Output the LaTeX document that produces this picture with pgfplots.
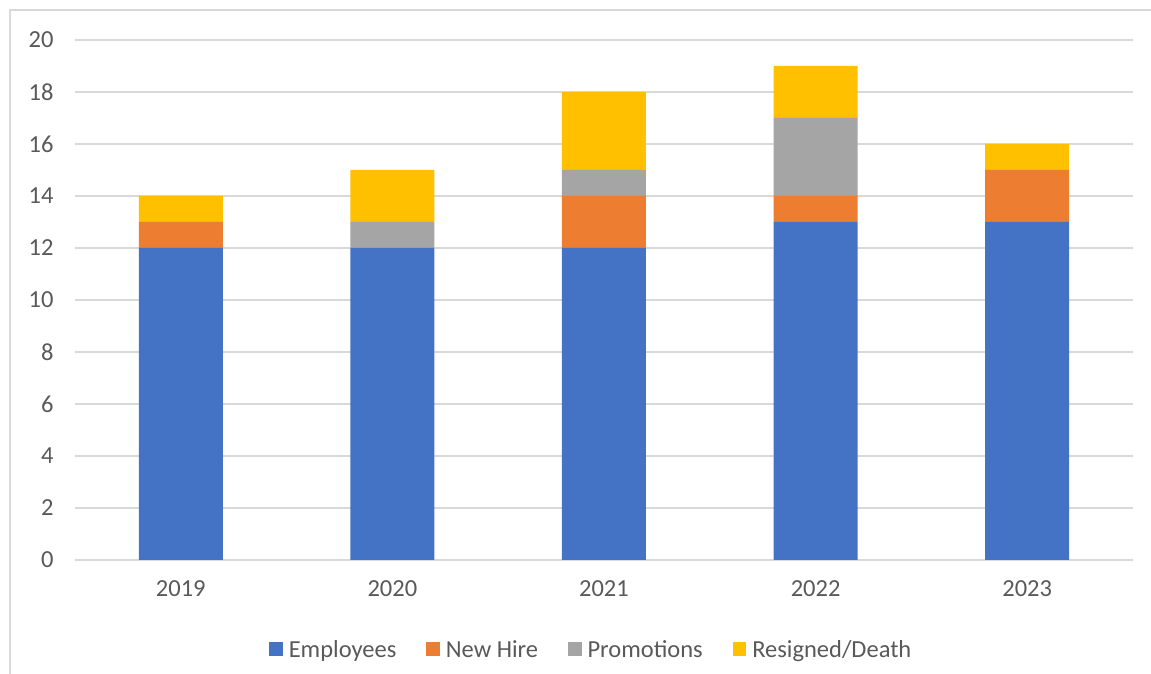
\documentclass[border=0pt]{standalone}
\usepackage{pgfplots}
\pgfplotsset{compat=1.18}
\usepackage{pgfplotstable}
\usepackage{fontspec}
\setmainfont{Carlito}
\definecolor{emp}{HTML}{4472C4}
\definecolor{hire}{HTML}{ED7D31}
\definecolor{promo}{HTML}{A5A5A5}
\definecolor{resign}{HTML}{FFC000}
\definecolor{gridgray}{HTML}{D9D9D9}
\definecolor{txtgray}{HTML}{595959}
\pgfplotstableread{
x emp hire promo resign
0 12 1 0 1
1 12 0 1 2
2 12 2 1 3
3 13 1 3 2
4 13 2 0 1
}\data
\begin{document}
\begin{tikzpicture}[x=1pt,y=1pt]
\useasboundingbox (0,0) rectangle (1151,674);
\draw[color=gridgray, line width=1.3pt] (10,0) -- (10,664) -- (1151,664);
\begin{axis}[
  at={(75pt,114pt)}, anchor=south west,
  scale only axis, width=1058pt, height=520pt,
  ybar stacked, bar width=84pt,
  enlargelimits=false,
  xmin=-0.5, xmax=4.5, ymin=0, ymax=20,
  ytick={0,2,...,20},
  xtick=data, xticklabels={2019,2020,2021,2022,2023},
  ymajorgrids, grid style={gridgray, line width=1.1pt},
  axis line style={draw=none}, tick style={draw=none},
  /pgf/number format/assume math mode=true,
  tick label style={font=\fontsize{24.5}{29}\selectfont, text=txtgray},
  yticklabel style={xshift=-18pt},
  xticklabel style={yshift=-17pt},
  legend columns=4,
  legend style={at={(0.488,-0.172)}, anchor=center, draw=none, fill=none,
    font=\fontsize{24.5}{29}\selectfont, text=txtgray,
    /tikz/every even column/.append style={column sep=28pt},
    /tikz/every odd column/.append style={column sep=4pt}},
  legend cell align=left,
  legend image code/.code={\fill[#1] (0pt,-6.5pt) rectangle (13.5pt,7pt);},
]
\addplot[fill=emp, draw=none] table[x=x,y=emp] {\data};
\addplot[fill=hire, draw=none] table[x=x,y=hire] {\data};
\addplot[fill=promo, draw=none] table[x=x,y=promo] {\data};
\addplot[fill=resign, draw=none] table[x=x,y=resign] {\data};
\legend{Employees,New Hire,Promotions,Resigned/Death}
\end{axis}
\end{tikzpicture}
\end{document}
